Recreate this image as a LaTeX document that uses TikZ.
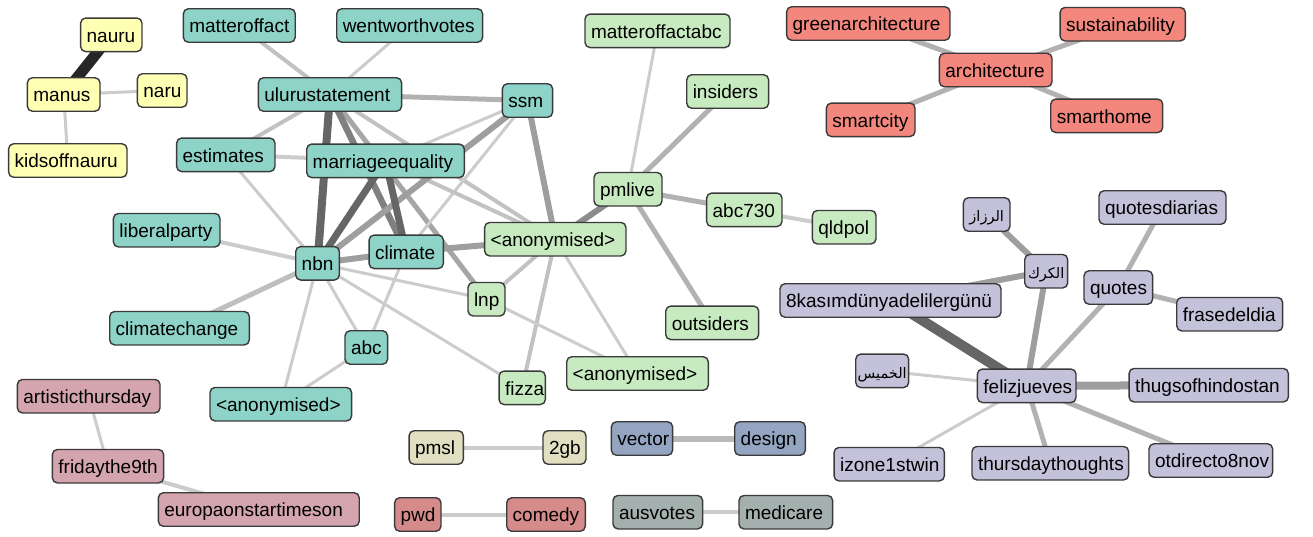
\documentclass[tikz,border=0pt]{standalone}
\usepackage{fontspec}
\setmainfont{Liberation Sans}
\newfontfamily\arabicfont[Script=Arabic]{DejaVu Sans}
\TeXXeTstate=1
\pgfdeclarelayer{bg}
\pgfsetlayers{bg,main}
\definecolor{cteal}{HTML}{8DD3C7}
\definecolor{cyel}{HTML}{FFFFB3}
\definecolor{cgrn}{HTML}{C7EAC0}
\definecolor{cred}{HTML}{F3877E}
\definecolor{clav}{HTML}{C4C2DA}
\definecolor{cpink}{HTML}{D4A5AF}
\definecolor{cbeige}{HTML}{E0DFC2}
\definecolor{cblue}{HTML}{93A5C0}
\definecolor{crose}{HTML}{D68B8B}
\definecolor{cgray}{HTML}{A3B0AE}
\definecolor{cbord}{HTML}{3A3A3A}
\tikzset{
  nbox/.style={draw=cbord, line width=1.4pt, rounded corners=5pt, inner xsep=6pt, inner ysep=2pt,
    minimum height=33.5pt, text height=18.4pt, text depth=4pt,
    font=\fontsize{19}{22}\selectfont},
  ea/.style={draw=black!20, line width=3pt},
  eb/.style={draw=black!24, line width=4pt},
  ec/.style={draw=black!30, line width=5pt},
  ed/.style={draw=black!38, line width=6pt},
  ee/.style={draw=black!50, line width=6.5pt},
  ef/.style={draw=black!60, line width=8pt},
  eg/.style={draw=black!85, line width=11pt},
}
\newcommand\nd[6]{\node[nbox,fill=#2] (#1) at (#4,#5) {\makebox[\dimexpr#3pt-13.4pt\relax][l]{#6}};}
\newcommand\ndar[6]{\node[nbox,fill=#2] (#1) at (#4,#5) {\makebox[\dimexpr#3pt-13.4pt\relax][c]{\arabicfont\fontsize{14.5}{18}\selectfont\beginR #6\endR}};}
\begin{document}
\begin{tikzpicture}[x=1pt,y=-1pt]
\useasboundingbox (0,0) rectangle (1313,536);
% yellow
\nd{nauru}{cyel}{62.7}{111.3}{34.8}{nauru}
\nd{manus}{cyel}{74}{63.7}{94.5}{manus}
\nd{naru}{cyel}{51}{162.2}{90.5}{naru}
\nd{kids}{cyel}{119.7}{67.8}{160.5}{kidsoffnauru}
% teal
\nd{mof}{cteal}{113.3}{239.3}{25.5}{matteroffact}
\nd{went}{cteal}{147.3}{409.7}{25.5}{wentworthvotes}
\nd{uluru}{cteal}{144.6}{330}{94.5}{ulurustatement}
\nd{ssm}{cteal}{51.6}{527.5}{100.5}{ssm}
\nd{est}{cteal}{99.7}{225.8}{154.8}{estimates}
\nd{marr}{cteal}{159}{385.5}{160.8}{marriageequality}
\nd{lib}{cteal}{108}{166.7}{230.2}{liberalparty}
\nd{nbn}{cteal}{45}{317.5}{263.3}{nbn}
\nd{clim}{cteal}{75.7}{406.2}{251.8}{climate}
\nd{climch}{cteal}{141}{179.5}{328.2}{climatechange}
\nd{abc}{cteal}{44}{366.3}{347.5}{abc}
\nd{anonT}{cteal}{143}{280.8}{404.2}{<anonymised>}
% green
\nd{mofabc}{cgrn}{146.4}{657.5}{30.8}{matteroffactabc}
\nd{ins}{cgrn}{83.3}{727.7}{91.5}{insiders}
\nd{pml}{cgrn}{69.4}{628}{189.2}{pmlive}
\nd{abcs}{cgrn}{76.7}{744.3}{209.8}{abc730}
\nd{qld}{cgrn}{65}{844.2}{227.2}{qldpol}
\nd{anonG}{cgrn}{142.7}{555.3}{239.2}{<anonymised>}
\nd{lnp}{cgrn}{38.4}{486.5}{299.2}{lnp}
\nd{fizza}{cgrn}{47.7}{522.2}{387.8}{fizza}
\nd{anonB}{cgrn}{143}{637.5}{373.5}{<anonymised>}
\nd{outs}{cgrn}{94.3}{712.2}{322.8}{outsiders}
% pink
\nd{art}{cpink}{144}{88.7}{396.2}{artisticthursday}
\nd{fri}{cpink}{112.6}{108}{466.2}{fridaythe9th}
\nd{euro}{cpink}{202.3}{258.8}{509.5}{europaonstartimeson}
% pairs
\nd{pmsl}{cbeige}{55.7}{436.2}{447.5}{pmsl}
\nd{twogb}{cbeige}{44.4}{564.5}{447.5}{2gb}
\nd{vec}{cblue}{62.6}{642}{438.5}{vector}
\nd{des}{cblue}{72}{770}{438.5}{design}
\nd{pwd}{crose}{47.7}{417.8}{514.5}{pwd}
\nd{com}{crose}{80}{546}{514.5}{comedy}
\nd{ausv}{cgray}{91}{657.8}{512.2}{ausvotes}
\nd{medi}{cgray}{95}{785.8}{512.2}{medicare}
% red
\nd{green}{cred}{164.7}{868.3}{23.5}{greenarchitecture}
\nd{sust}{cred}{126.7}{1122.7}{24.2}{sustainability}
\nd{arch}{cred}{114}{995.7}{70}{architecture}
\nd{scity}{cred}{90}{870.7}{119.8}{smartcity}
\nd{shome}{cred}{113.3}{1106.7}{115.8}{smarthome}
% lavender
\ndar{razaz}{clav}{48}{986.7}{214.5}{الرزاز}
\ndar{karak}{clav}{44.3}{1046.2}{271.2}{الكرك}
\nd{qdia}{clav}{128.4}{1162.5}{207.5}{quotesdiarias}
\nd{quotes}{clav}{70}{1118.3}{287.5}{quotes}
\nd{kasim}{clav}{222.4}{890.5}{300.5}{8kasımdünyadelilergünü}
\nd{frase}{clav}{107.3}{1229.7}{314.2}{frasedeldia}
\ndar{khamis}{clav}{54.3}{882.2}{370.8}{الخميس}
\nd{feliz}{clav}{100}{1026.7}{385.8}{felizjueves}
\nd{thugs}{clav}{160.7}{1208.7}{385.2}{thugsofhindostan}
\nd{izone}{clav}{111.7}{889.2}{464.2}{izone1stwin}
\nd{thurs}{clav}{158}{1050.3}{463.2}{thursdaythoughts}
\nd{otd}{clav}{125}{1210.8}{460.5}{otdirecto8nov}
\begin{pgfonlayer}{bg}
% yellow
\draw[eg] (nauru.center) -- (manus.center);
\draw[ea] (manus.center) -- (naru.center);
\draw[ea] (manus.center) -- (kids.center);
% teal
\draw[eb] (uluru.center) -- (mof.center);
\draw[ea] (uluru.center) -- (went.center);
\draw[ec] (uluru.center) -- (ssm.center);
\draw[eb] (uluru.center) -- (est.center);
\draw[eb] (uluru.center) -- (anonG.center);
\draw[ec,draw=black!35] (uluru.center) -- (lnp.center);
\draw[ee] (uluru.center) -- (clim.center);
\draw[ef] (uluru.center) -- (nbn.center);
\draw[eb,draw=black!20] (est.center) -- (marr.center);
\draw[ea] (est.center) -- (nbn.center);
\draw[eb,draw=black!20] (lib.center) -- (nbn.center);
\draw[ec,draw=black!25] (climch.center) -- (nbn.center);
\draw[ea] (nbn.center) -- (anonT.center);
\draw[ea] (nbn.center) -- (abc.center);
\draw[ea] (abc.center) -- (anonT.center);
\draw[ea] (clim.center) -- (abc.center);
\draw[ea] (nbn.center) -- (lnp.center);
\draw[ea] (nbn.center) -- (fizza.center);
\draw[ea] (marr.center) -- (ssm.center);
\draw[ea] (ssm.center) -- (clim.center);
\draw[eb] (marr.center) -- (anonG.center);
\draw[ed] (ssm.center) -- (nbn.center);
\draw[ed] (ssm.center) -- (anonG.center);
\draw[ed] (nbn.center) -- (clim.center);
\draw[ed] (clim.center) -- (anonG.center);
\draw[ef,line width=7pt] (marr.center) -- (nbn.center);
\draw[ef,line width=7pt] (marr.center) -- (clim.center);
% green
\draw[eb] (anonG.center) -- (lnp.center);
\draw[eb] (anonG.center) -- (fizza.center);
\draw[ea] (anonG.center) -- (anonB.center);
\draw[ea] (lnp.center) -- (anonB.center);
\draw[ed,draw=black!45] (anonG.center) -- (pml.center);
\draw[ea] (pml.center) -- (mofabc.center);
\draw[ec] (pml.center) -- (ins.center);
\draw[ec] (pml.center) -- (abcs.center);
\draw[ec] (pml.center) -- (outs.center);
\draw[eb,draw=black!20] (abcs.center) -- (qld.center);
% pink and pairs
\draw[ea] (art.center) -- (fri.center);
\draw[eb,draw=black!20] (fri.center) -- (euro.center);
\draw[eb,draw=black!20] (pmsl.center) -- (twogb.center);
\draw[ed,draw=black!27] (vec.center) -- (des.center);
\draw[eb,draw=black!20] (pwd.center) -- (com.center);
\draw[eb,draw=black!20] (ausv.center) -- (medi.center);
% red
\draw[ec] (arch.center) -- (green.center);
\draw[ec] (arch.center) -- (sust.center);
\draw[ec] (arch.center) -- (scity.center);
\draw[ec] (arch.center) -- (shome.center);
% lavender
\draw[ed] (karak.center) -- (razaz.center);
\draw[ed] (karak.center) -- (kasim.center);
\draw[ed] (karak.center) -- (feliz.center);
\draw[ef,line width=10pt] (feliz.center) -- (kasim.center);
\draw[ec] (feliz.center) -- (quotes.center);
\draw[ec] (quotes.center) -- (qdia.center);
\draw[ec] (quotes.center) -- (frase.center);
\draw[ea] (feliz.center) -- (khamis.center);
\draw[ed,line width=8pt] (feliz.center) -- (thugs.center);
\draw[ea] (feliz.center) -- (izone.center);
\draw[ec] (feliz.center) -- (thurs.center);
\draw[ec] (feliz.center) -- (otd.center);
\end{pgfonlayer}
\end{tikzpicture}
\end{document}
